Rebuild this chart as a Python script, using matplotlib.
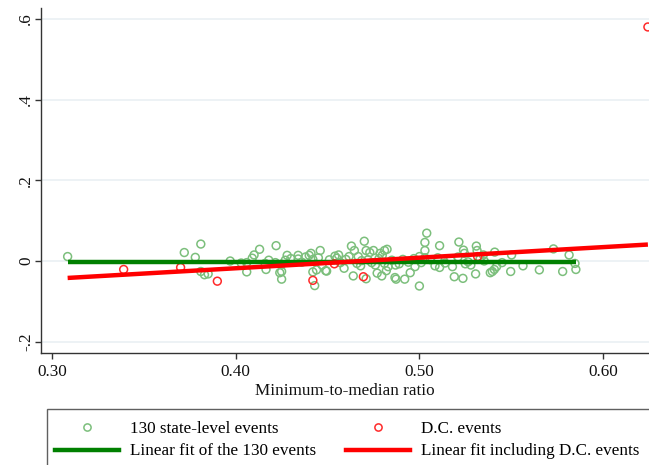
import matplotlib
matplotlib.use("Agg")
import matplotlib.pyplot as plt
from matplotlib.patches import Rectangle
from matplotlib.lines import Line2D
import numpy as np

plt.rcParams['font.family'] = ['Liberation Serif', 'DejaVu Serif']

# ---- data ----
state_x = [0.3085, 0.372, 0.378, 0.381, 0.381, 0.383, 0.385, 0.397, 0.403, 0.406,
           0.406, 0.409, 0.410, 0.413, 0.416, 0.4165, 0.422, 0.4216, 0.424, 0.425,
           0.425, 0.428, 0.427, 0.434, 0.434, 0.440, 0.441, 0.442, 0.446, 0.442,
           0.444, 0.443, 0.449,
           0.4495, 0.454, 0.455, 0.456, 0.459, 0.4617, 0.463, 0.4646, 0.464, 0.4667,
           0.468, 0.4686, 0.470, 0.471, 0.471, 0.473, 0.475, 0.476, 0.477, 0.4786,
           0.4798, 0.481, 0.4824, 0.4795, 0.482, 0.483, 0.4867, 0.4873, 0.489, 0.492,
           0.495, 0.4976, 0.500, 0.500, 0.503, 0.503, 0.504, 0.503, 0.5085, 0.511,
           0.511, 0.519, 0.5215, 0.5237, 0.524, 0.5245, 0.518, 0.5265, 0.525, 0.5306,
           0.531, 0.5314, 0.5348, 0.5353, 0.5386, 0.5397, 0.5408, 0.542, 0.541, 0.5497,
           0.5502, 0.5564, 0.5653, 0.573, 0.578, 0.5815, 0.5847, 0.5852,
           0.418, 0.425, 0.430, 0.436, 0.438, 0.445, 0.447, 0.451, 0.457, 0.460,
           0.466, 0.472, 0.474, 0.478, 0.481, 0.485, 0.487, 0.491, 0.494, 0.497,
           0.501, 0.506, 0.510, 0.514, 0.517, 0.521, 0.528, 0.533, 0.545]
state_y = [0.011, 0.021, 0.009, 0.042, -0.026, -0.034, -0.032, 0.000, -0.005, -0.004,
           -0.027, 0.007, 0.015, 0.029, -0.006, -0.021, 0.038, -0.004, -0.029, -0.026,
           -0.045, 0.014, 0.002, 0.014, 0.005, 0.014, 0.019, 0.004, 0.026, -0.027,
           -0.022, -0.061, -0.024,
           -0.025, 0.012, 0.007, 0.015, -0.018, 0.011, 0.037, 0.026, -0.037, 0.011,
           -0.012, 0.001, 0.049, 0.026, -0.044, 0.021, 0.026, -0.010, -0.030, 0.019,
           0.014, 0.026, 0.029, -0.037, -0.024, -0.014, -0.041, -0.045, -0.007, -0.045,
           -0.029, -0.014, 0.011, -0.062, 0.026, 0.046, 0.069, 0.008, -0.012, -0.016,
           0.038, -0.039, 0.047, -0.043, 0.027, 0.019, -0.014, -0.002, -0.007, -0.032,
           0.037, 0.026, 0.015, 0.000, -0.029, -0.026, -0.021, -0.014, 0.022, -0.026,
           0.015, -0.012, -0.022, 0.030, -0.026, 0.015, -0.006, -0.021,
           0.002, -0.008, 0.006, -0.003, 0.010, 0.008, -0.010, 0.003, -0.004, 0.004,
           -0.006, 0.003, -0.004, 0.006, -0.006, 0.002, -0.010, 0.004, -0.003, 0.006,
           -0.004, 0.003, 0.008, -0.005, 0.004, 0.010, -0.010, 0.005, -0.004]

dc_x = [0.339, 0.370, 0.390, 0.442, 0.4537, 0.4695, 0.5317, 0.6244]
dc_y = [-0.021, -0.016, -0.050, -0.048, -0.007, -0.039, 0.011, 0.580]

# linear-fit coefficients (intercept, slope)
fit_state = (-0.002, 0.0)
fit_all = (-0.1228, 0.262)

x_ticks = [0.30, 0.40, 0.50, 0.60]
x_tick_labels = ["0.30", "0.40", "0.50", "0.60"]
y_ticks = [-0.2, 0.0, 0.2, 0.4, 0.6]
y_tick_labels = ["-.2", "0", ".2", ".4", ".6"]

legend_labels = ["130 state-level events", "Linear fit of the 130 events",
                 "D.C. events", "Linear fit including D.C. events"]

# ---- colours ----
c_pts_green = '#7cbf7c'
c_pts_red = '#ff2a2a'
c_line_green = '#008000'
c_line_red = '#ff0000'

FS = 12.3
W, H = 649, 465
fig = plt.figure(figsize=(W / 100, H / 100), dpi=100)
ax = fig.add_axes([41 / W, 1 - 353 / H, (W - 41) / W, (353 - 8) / H])

ax.set_xlim(0.294, 0.625)
ax.set_ylim(-0.228, 0.627)

for yt in y_ticks:
    ax.axhline(yt, color='#eaf0f4', lw=1.2, zorder=0)

ax.scatter(state_x, state_y, s=32, facecolors='none', edgecolors=c_pts_green,
           linewidths=1.1, zorder=2)
ax.scatter(dc_x, dc_y, s=32, facecolors='none', edgecolors=c_pts_red,
           linewidths=1.1, zorder=2)

xs = np.array([min(state_x), max(state_x)])
ax.plot(xs, fit_state[0] + fit_state[1] * xs, color=c_line_green, lw=3.2,
        solid_capstyle='butt', zorder=3)
all_x = state_x + dc_x
xa = np.array([min(all_x), max(all_x)])
ax.plot(xa, fit_all[0] + fit_all[1] * xa, color=c_line_red, lw=3.2,
        solid_capstyle='butt', zorder=4)

for s in ['top', 'right']:
    ax.spines[s].set_visible(False)
for s in ['left', 'bottom']:
    ax.spines[s].set_color('#333333')
    ax.spines[s].set_linewidth(1.0)

ax.set_xticks(x_ticks)
ax.set_xticklabels(x_tick_labels)
ax.set_yticks(y_ticks)
ax.set_yticklabels(y_tick_labels, rotation=90, va='center')
ax.tick_params(axis='both', direction='out', length=4.5, width=1.0,
               color='#333333', labelsize=FS, labelcolor='#111111')
ax.tick_params(axis='y', pad=0.5)
ax.tick_params(axis='x', pad=3.5)
ax.set_xlabel("Minimum-to-median ratio", fontsize=FS, color='#111111', labelpad=2)

# legend frame (extends beyond the figure edge, as in the reference)
fig.patches.append(Rectangle((47 / W, -30 / H), (720 - 47) / W, (H + 30 - 409) / H,
                             transform=fig.transFigure, fill=False,
                             edgecolor='#606060', lw=1.0, zorder=1))

handles = [
    Line2D([], [], ls='none', marker='o', markersize=5.2, markerfacecolor='none',
           markeredgecolor=c_pts_green, markeredgewidth=1.1),
    Line2D([], [], color=c_line_green, lw=3.2),
    Line2D([], [], ls='none', marker='o', markersize=5.2, markerfacecolor='none',
           markeredgecolor=c_pts_red, markeredgewidth=1.1),
    Line2D([], [], color=c_line_red, lw=3.2),
]
fig.legend(handles, legend_labels, ncol=2, loc='upper left',
           bbox_to_anchor=(55 / W, 1 - 421 / H), frameon=False, borderpad=0,
           borderaxespad=0, fontsize=FS, handlelength=3.75, handletextpad=0.64,
           columnspacing=1.76, labelspacing=0.38)

fig.savefig("out.png", dpi=100)
